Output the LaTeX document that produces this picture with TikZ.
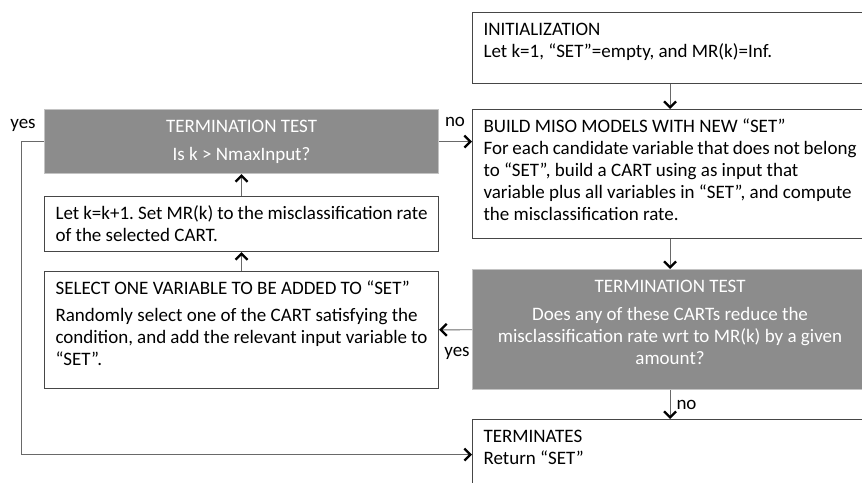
\documentclass[tikz,border=0pt]{standalone}
\usepackage{fontspec}
\setmainfont{Carlito}
\usepackage{tikz}
\usetikzlibrary{
	arrows.meta,
	positioning
}
\definecolor{edgegray}{RGB}{70,70,70}
\definecolor{testgray}{RGB}{140,140,140}
\definecolor{testedge}{RGB}{195,195,195}
\definecolor{linkgray}{RGB}{105,105,105}
\newcommand{\boxtext}[3]{\parbox[c][#1][t]{#2}{\rule{0pt}{23pt}#3}}
\frenchspacing

\begin{document}
\begin{tikzpicture}[x=1pt, y=-1pt, thick, font=\fontsize{19}{22}\selectfont,
	stepbox/.style={draw=edgegray, line width=1.1pt, fill=white, inner xsep=11pt, inner ysep=0pt, anchor=north west},
	testbox/.style={stepbox, draw=testedge, fill=testgray, text=white},
	flow/.style={draw=linkgray, line width=0.9pt, -{Straight Barb[length=6pt,width=12pt,line width=2.3pt,color=black]}},
	tag/.style={inner sep=0pt}]
	\useasboundingbox (0,0) rectangle (862,482);
	\clip (0,0) rectangle (862,482);

	\node[stepbox] (init) at (472,12) {\boxtext{71pt}{373pt}{INITIALIZATION\\
		Let k=1, “SET”=empty, and MR(k)=Inf.}};
	\node[stepbox] (build) at (472,109) {\boxtext{129pt}{373pt}{BUILD MISO MODELS WITH NEW “SET”\\
		For each candidate variable that does not belong\\
		to “SET”, build a CART using as input that\\
		variable plus all variables in “SET”, and compute\\
		the misclassification rate.}};
	\node[testbox] (test2) at (472,269) {\boxtext{120pt}{373pt}{\centering TERMINATION TEST\\[6pt]
		Does any of these CARTs reduce the\\
		misclassification rate wrt to MR(k) by a given\\
		amount?}};
	\node[stepbox] (stop) at (472,419) {\boxtext{70pt}{373pt}{TERMINATES\\
		Return “SET”}};

	\node[testbox] (test1) at (44,109) {\boxtext{64pt}{372pt}{\centering TERMINATION TEST\\[6pt]
		Is k > NmaxInput?}};
	\node[stepbox] (incr) at (44,196) {\boxtext{55pt}{372pt}{Let k=k+1. Set MR(k) to the misclassification rate\\
		of the selected CART.}};
	\node[stepbox] (select) at (44,271) {\boxtext{117pt}{372pt}{SELECT ONE VARIABLE TO BE ADDED TO “SET”\\[5pt]
		Randomly select one of the CART satisfying the\\
		condition, and add the relevant input variable to\\
		“SET”.}};

	\draw[flow] (init) -- (build);
	\draw[flow] (build) -- (test2);
	\draw[flow] (test2) -- node[tag, right=6pt] {no} (stop);
	\draw[flow] (test2) -- (select);
	\node[tag] (yes2) at (457,353) {yes};
	\draw[flow] (select) -- (incr);
	\draw[flow] (incr) -- (test1);
	\draw[flow] (test1.east) -- (test1.east -| build.west);
	\node[tag] (no1) at (455,122) {no};
	\draw[flow] (test1.west) -- ++(-23,0) |- (stop.west);
	\node[tag] (yes1) at (23,125) {yes};
\end{tikzpicture}
\end{document}
